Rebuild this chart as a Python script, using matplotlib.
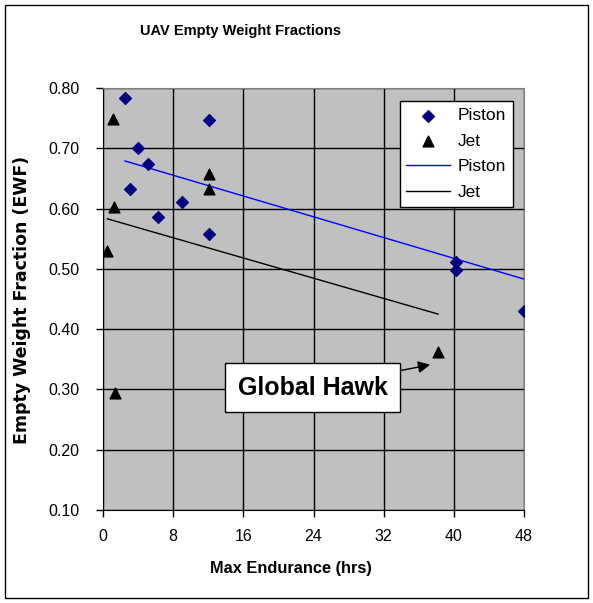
import matplotlib
matplotlib.use("Agg")
import matplotlib.pyplot as plt
from matplotlib.patches import Rectangle

# Piston-engine UAVs: max endurance (hrs) vs empty weight fraction
piston_endurance = [2.5, 4.0, 3.1, 5.1, 6.3, 9.0, 12.1, 12.1, 40.3, 40.3, 48.0]
piston_ewf = [0.783, 0.700, 0.633, 0.674, 0.586, 0.611, 0.747, 0.558, 0.511, 0.498, 0.430]

# Jet UAVs
jet_endurance = [1.1, 1.25, 0.5, 1.4, 12.1, 12.1, 38.2]
jet_ewf = [0.749, 0.603, 0.530, 0.294, 0.657, 0.633, 0.362]

# Linear trend lines (start / end points)
piston_trend_x = [2.5, 48.0]
piston_trend_y = [0.679, 0.483]
jet_trend_x = [0.5, 38.2]
jet_trend_y = [0.583, 0.425]

x_ticks = [0, 8, 16, 24, 32, 40, 48]
y_ticks = [0.10, 0.20, 0.30, 0.40, 0.50, 0.60, 0.70, 0.80]

plt.rcParams["font.family"] = ["Liberation Sans", "DejaVu Sans"]

fig = plt.figure(figsize=(5.93, 6.03), dpi=100)
ax = fig.add_axes([103 / 593, 1 - 510 / 603, 421 / 593, 422 / 603])
ax.set_facecolor("#C0C0C0")

ax.scatter(piston_endurance, piston_ewf, marker="D", s=36, color="#000080",
           zorder=4, label="Piston")
ax.scatter(jet_endurance, jet_ewf, marker="^", s=60, color="black",
           zorder=4, label="Jet")
ax.plot(piston_trend_x, piston_trend_y, color="#0000FF", linewidth=1,
        zorder=3, label="Piston")
ax.plot(jet_trend_x, jet_trend_y, color="black", linewidth=1,
        zorder=3, label="Jet")

ax.set_xlim(0, 48)
ax.set_ylim(0.10, 0.80)
ax.set_xticks(x_ticks)
ax.set_yticks(y_ticks)
ax.set_yticklabels([f"{v:.2f}" for v in y_ticks])
ax.grid(True, color="black", linewidth=1)
ax.set_axisbelow(True)
ax.tick_params(direction="out", length=5, width=1, labelsize=11.5)
ax.tick_params(axis="y", pad=12)
ax.tick_params(axis="x", pad=9)

for side in ("top", "right"):
    ax.spines[side].set_color("#808080")
ax.spines["left"].set_color("black")
ax.spines["bottom"].set_color("black")

ax.set_xlabel("Max Endurance (hrs)", fontsize=11.8, fontweight="bold")
ax.xaxis.set_label_coords((291 - 103) / 421, (510 - 568) / 422)
ax.xaxis.label.set_va("center")
ax.set_ylabel("Empty Weight Fraction (EWF)", fontsize=12.5,
              fontweight="bold", family="DejaVu Sans")
ax.yaxis.set_label_coords((22 - 103) / 421, (510 - 300) / 422)
ax.yaxis.label.set_va("center")

leg = ax.legend(loc="upper right", bbox_to_anchor=(513 / 421 - 103 / 421,
                                                   (510 - 101) / 422),
                frameon=True, fancybox=False, fontsize=12.5,
                handlelength=2.5, handletextpad=0.45, borderpad=0.4,
                borderaxespad=0, labelspacing=0.6, scatterpoints=1)
leg.get_frame().set_edgecolor("black")
leg.get_frame().set_linewidth(1)
leg.get_frame().set_facecolor("white")
leg.get_frame().set_alpha(1)

ax.annotate("Global Hawk", xy=(37.3, 0.341), xytext=(23.9, 0.3025),
            fontsize=18, fontweight="bold", ha="center", va="center",
            bbox=dict(boxstyle="square,pad=0.5", fc="white", ec="black",
                      lw=1),
            arrowprops=dict(arrowstyle="-|>", color="black", lw=1,
                            shrinkA=0, shrinkB=0),
            zorder=5)

fig.text(240 / 593, 1 - 31 / 603, "UAV Empty Weight Fractions",
         ha="center", va="center", fontsize=10.5, fontweight="bold")

# outer chart border
fig.patches.append(Rectangle((5 / 593, 5 / 603), 583 / 593, 593 / 603,
                             transform=fig.transFigure, fill=False,
                             edgecolor="black", linewidth=1))

fig.savefig("out.png", dpi=100)
